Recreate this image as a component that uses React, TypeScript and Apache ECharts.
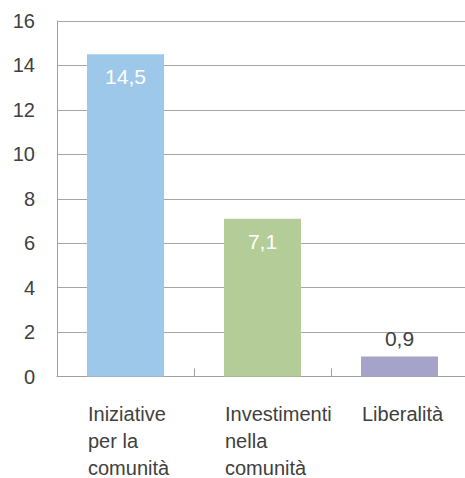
import React, { useEffect, useRef } from "react";
import * as echarts from "echarts";

const categories = ["Iniziative\nper la\ncomunità", "Investimenti\nnella\ncomunità", "Liberalità"];
const values = [14.5, 7.1, 0.9];
const barColors = ["#9DC8EA", "#B4CC97", "#A5A3C9"];
const labelInside = [true, true, false];
const yTicks = { min: 0, max: 16, interval: 2 };

export default function App() {
  const ref = useRef<HTMLDivElement>(null);
  useEffect(() => {
    if (!ref.current) return;
    const chart = echarts.init(ref.current, null, { renderer: "svg" });
    const font = "'Liberation Sans', Arial, sans-serif";
    chart.setOption({
      animation: false,
      grid: { left: 57, right: 0, top: 21, bottom: 101 },
      xAxis: {
        type: "category",
        data: categories,
        axisLine: { lineStyle: { color: "#A0A0A0", width: 1 } },
        axisTick: { show: true, inside: true, length: 8, lineStyle: { color: "#A0A0A0" } },
        axisLabel: {
          interval: 0,
          margin: 24,
          align: "center",
          formatter: (v: string) => "{a|" + v + "}",
          rich: {
            a: { width: 77, align: "left", fontSize: 20, lineHeight: 27, color: "#404040", fontFamily: font, padding: [0, 0, 0, 2] },
          },
        },
      },
      yAxis: {
        type: "value",
        min: yTicks.min,
        max: yTicks.max,
        interval: yTicks.interval,
        axisLine: { show: true, lineStyle: { color: "#A0A0A0", width: 1 } },
        axisTick: { show: false },
        splitLine: { lineStyle: { color: "#A6A6A6", width: 1 } },
        axisLabel: { fontSize: 20, color: "#404040", fontFamily: font, margin: 22 },
      },
      series: [
        {
          type: "bar",
          barWidth: 77,
          data: values.map((v, i) => ({
            value: v,
            itemStyle: { color: barColors[i] },
            label: labelInside[i]
              ? { position: "insideTop", color: "#FFFFFF", distance: 12 }
              : { position: "top", color: "#404040", distance: 8 },
          })),
          label: {
            show: true,
            fontSize: 21,
            fontFamily: font,
            formatter: (p: any) => String(p.value).replace(".", ","),
          },
        },
      ],
    });
    return () => chart.dispose();
  }, []);
  return (
    <div style={{ position: "absolute", left: 0, top: 0, width: 465, height: 478, overflow: "hidden" }}>
      <div ref={ref} style={{ width: 468, height: 478 }} />
    </div>
  );
}
